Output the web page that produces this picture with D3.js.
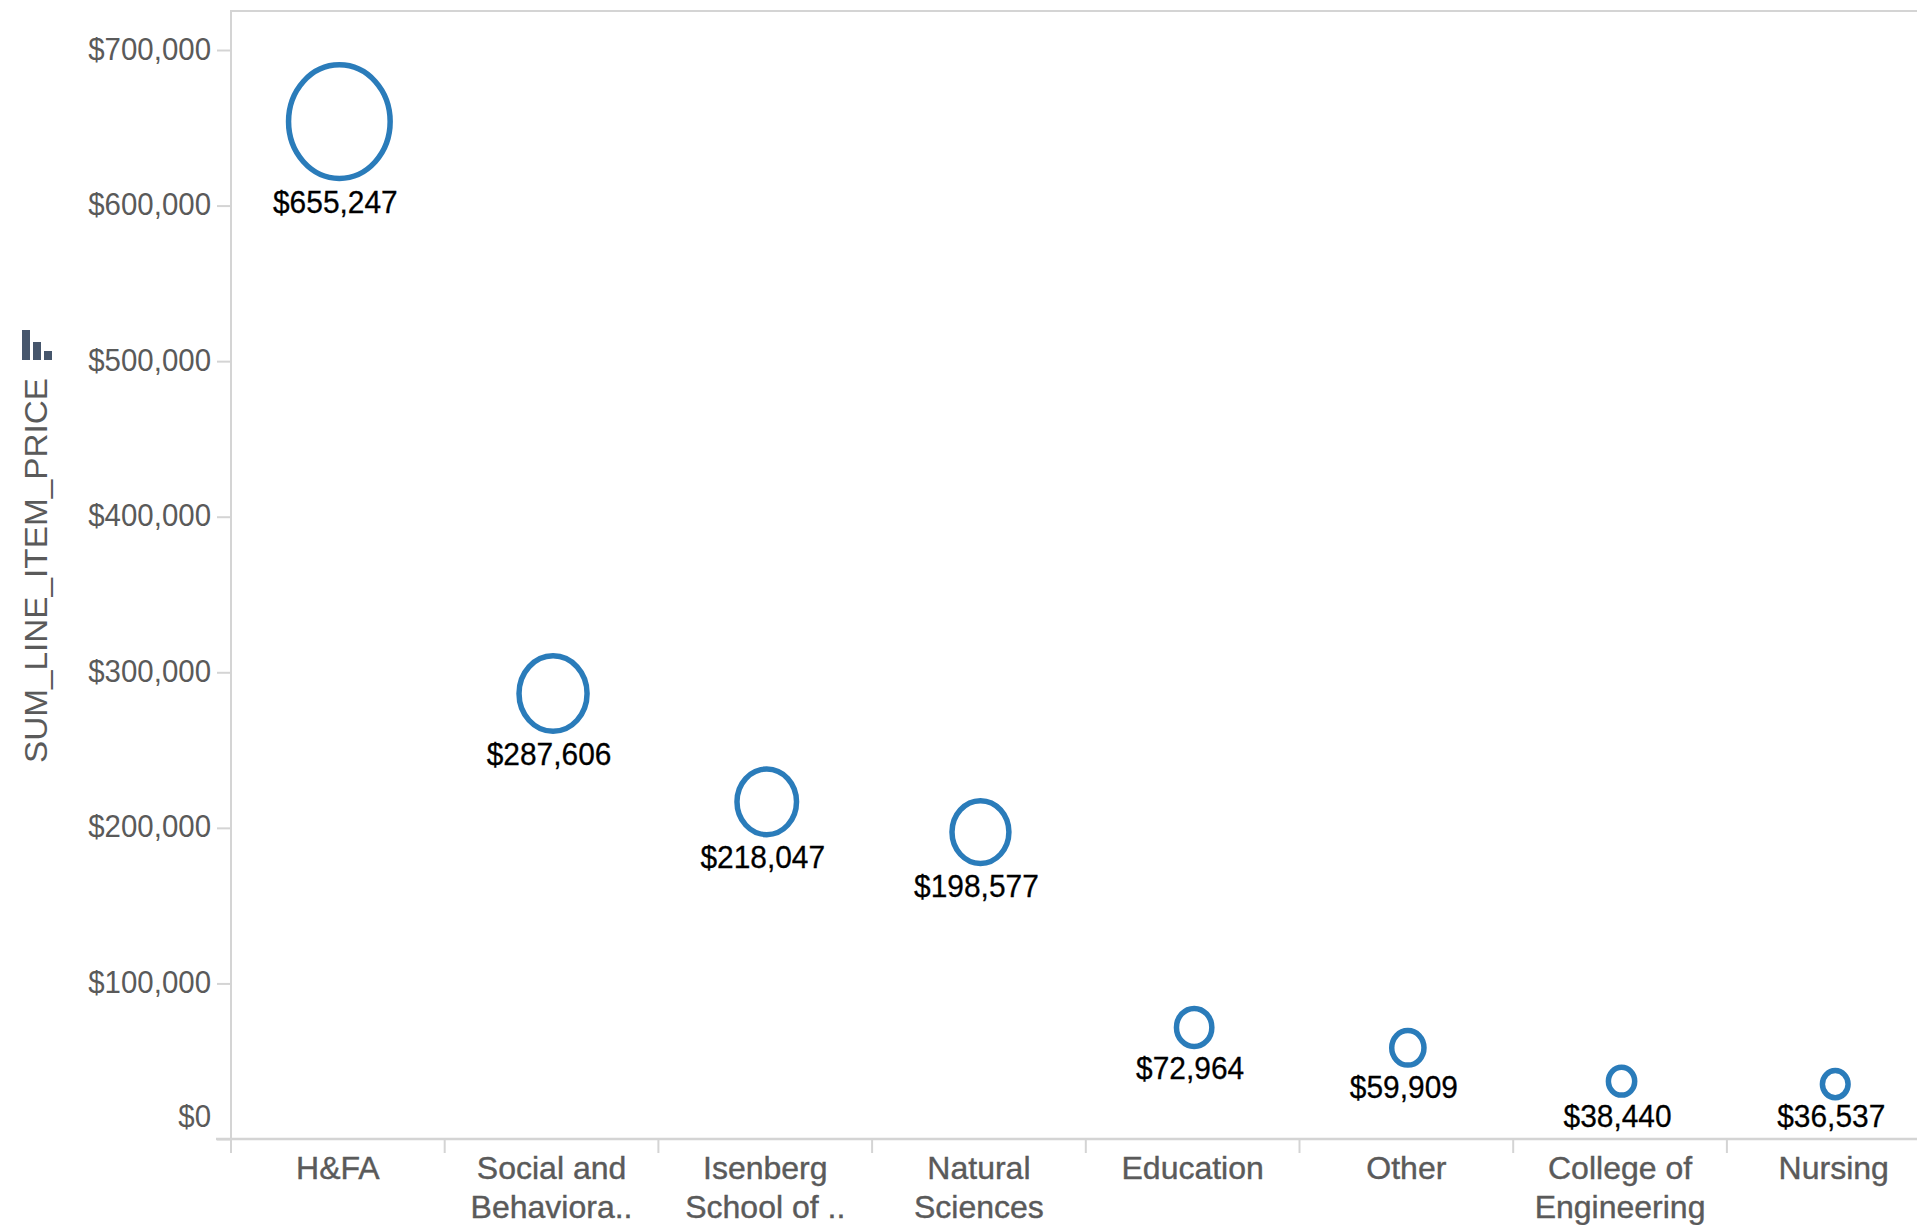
<!DOCTYPE html>
<html>
<head>
<meta charset="utf-8">
<script src="https://cdn.jsdelivr.net/npm/d3@7"></script>
<style>
  html, body { margin: 0; padding: 0; background: #fff; overflow: hidden; }
  text { font-family: "Liberation Sans", Arial, sans-serif; font-size: 32px; }
</style>
</head>
<body>
<svg id="chart"></svg>
<script>
const categories = ["H&FA", "Social and Behavioral", "Isenberg School of Management", "Natural Sciences", "Education", "Other", "College of Engineering", "Nursing"];
const categoryLines = [["H&FA"], ["Social and", "Behaviora.."], ["Isenberg", "School of .."], ["Natural", "Sciences"], ["Education"], ["Other"], ["College of", "Engineering"], ["Nursing"]];
const values = [655247, 287606, 218047, 198577, 72964, 59909, 38440, 36537];
const yTicks = [0, 100000, 200000, 300000, 400000, 500000, 600000, 700000];
const yTitle = "SUM_LINE_ITEM_PRICE";

const width = 1917, height = 1225;
const left = 231, top_ = 11, tickLen = 14;
const gray = "#d4d4d4", textGray = "#5a5a5a";
const ringWidth = 5.5;

const svg = d3.select("#chart").attr("width", width).attr("height", height);

const x = d3.scaleBand().domain(categories).range([left, left + 8 * 213.7]);
const y = d3.scaleLinear().domain([0, 700000]).range([1139, 50]);
// the picture is a little stretched, so the rings are taller than wide
const rx = d3.scaleSqrt().domain([0, 655247]).range([1.1, 50.8]);
const ry = d3.scaleSqrt().domain([0, 655247]).range([0.2, 56.8]);

svg.append("defs").append("filter").attr("id", "soft")
  .append("feGaussianBlur").attr("stdDeviation", 0.7);

// frame
svg.append("line").attr("x1", left).attr("x2", width).attr("y1", top_).attr("y2", top_)
  .attr("stroke", gray).attr("stroke-width", 2);
svg.append("line").attr("x1", left).attr("x2", left).attr("y1", top_ - 1).attr("y2", y(0) + tickLen)
  .attr("stroke", gray).attr("stroke-width", 2);
svg.append("line").attr("x1", left - 15).attr("x2", width).attr("y1", y(0)).attr("y2", y(0))
  .attr("stroke", gray).attr("stroke-width", 2.5);

// y axis
const yAxis = svg.append("g").attr("transform", "translate(" + left + ",0)")
  .call(d3.axisLeft(y).tickValues(yTicks).tickSize(tickLen).tickFormat(d3.format("$,")));
yAxis.select(".domain").remove();
yAxis.selectAll(".tick line").attr("stroke", gray).attr("stroke-width", 2);
yAxis.selectAll(".tick text")
  .attr("fill", textGray)
  .attr("x", -20 / 0.92)
  .attr("dy", null)
  .attr("y", d => d === 0 ? -13 : 9)
  .attr("transform", "scale(0.92,1)");

// x axis, ticks sit on the band edges
svg.selectAll(".band-tick").data(categories).enter().append("line")
  .attr("class", "band-tick")
  .attr("x1", d => x(d)).attr("x2", d => x(d))
  .attr("y1", y(0)).attr("y2", y(0) + tickLen)
  .attr("stroke", gray).attr("stroke-width", 2);

const catLabel = svg.selectAll(".cat").data(categories).enter().append("text")
  .attr("class", "cat")
  .attr("text-anchor", "middle")
  .attr("fill", textGray)
  .attr("stroke", textGray)
  .attr("stroke-width", 0.4);
catLabel.each(function (d, i) {
  d3.select(this).selectAll("tspan").data(categoryLines[i]).enter().append("tspan")
    .attr("x", x(d) + x.bandwidth() / 2)
    .attr("y", (l, j) => 1179 + j * 38.5)
    .text(l => l);
});

// rings
svg.selectAll(".ring").data(values).enter().append("ellipse")
  .attr("class", "ring")
  .attr("cx", (d, i) => x(categories[i]) + x.bandwidth() / 2 + 1.5)
  .attr("cy", d => y(d) + 2)
  .attr("rx", d => rx(d))
  .attr("ry", d => ry(d))
  .attr("fill", "none")
  .attr("stroke", "#2b7bba")
  .attr("stroke-width", ringWidth)
  .attr("filter", "url(#soft)");

// value labels under each ring, held just above the axis line
svg.selectAll(".val").data(values).enter().append("text")
  .attr("class", "val")
  .attr("text-anchor", "middle")
  .attr("fill", "#000")
  .attr("stroke", "#000")
  .attr("stroke-width", 0.3)
  .attr("transform", (d, i) => {
    const cx = x(categories[i]) + x.bandwidth() / 2 - 2.5;
    const by = Math.min(y(d) + 2 + ry(d) * 1.05 + ringWidth / 2 + 29, 1127);
    return "translate(" + cx + "," + by + ") scale(0.935,1)";
  })
  .text(d => d3.format("$,")(d));

// axis title and the little field icon
svg.append("text")
  .attr("transform", "translate(47,763) rotate(-90)")
  .attr("fill", textGray)
  .attr("textLength", 385)
  .attr("lengthAdjust", "spacingAndGlyphs")
  .text(yTitle);

const iconBars = [30, 18, 9];
svg.selectAll(".icon").data(iconBars).enter().append("rect")
  .attr("class", "icon")
  .attr("x", (d, i) => 22 + i * 11)
  .attr("y", d => 360 - d)
  .attr("width", 8)
  .attr("height", d => d)
  .attr("fill", "#46566c");
</script>
</body>
</html>
